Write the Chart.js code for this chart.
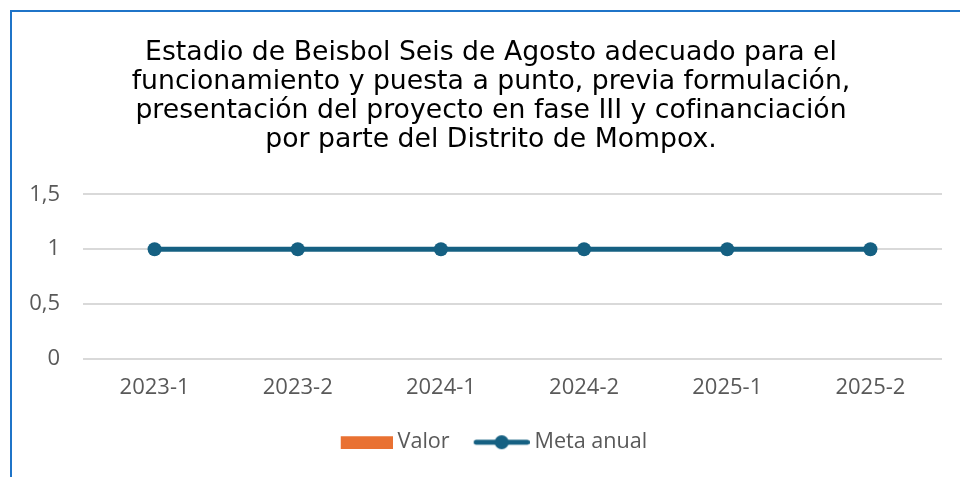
<!DOCTYPE html>
<html lang="es">
<head>
  <meta charset="UTF-8">
  <title>Estadio de Beisbol Seis de Agosto</title>
  <script src="https://cdn.jsdelivr.net/npm/chart.js"></script>
  <style>
    html, body { margin: 0; padding: 0; background: #fff; overflow: hidden; }
    #frame {
      position: absolute; left: 10px; top: 10px; width: 960px; height: 477px;
      border-left: 2px solid #1f74c8; border-top: 2px solid #1f74c8;
    }
    #wrap { position: absolute; left: 0; top: 0; width: 980px; height: 477px; }
  </style>
</head>
<body>
  <div id="frame"></div>
  <div id="wrap"><canvas id="chart"></canvas></div>

  <script>
    const categories = ['2023-1', '2023-2', '2024-1', '2024-2', '2025-1', '2025-2'];
    const valor = [0, 0, 0, 0, 0, 0];
    const metaAnual = [1, 1, 1, 1, 1, 1];
    const yTicks = [0, 0.5, 1, 1.5];

    const titleLines = [
      'Estadio de Beisbol Seis de Agosto adecuado para el',
      'funcionamiento y puesta a punto, previa formulación,',
      'presentación del proyecto en fase III y cofinanciación',
      'por parte del Distrito de Mompox.'
    ];

    const orange = '#e97132';
    const blue = '#156082';

    // iconos de la leyenda (parte visible pegada a la derecha, cerca del texto)
    function barIcon() {
      const c = document.createElement('canvas');
      c.width = 64; c.height = 14;
      const g = c.getContext('2d');
      g.fillStyle = orange;
      g.fillRect(12, 1, 52, 13);
      return c;
    }
    function lineIcon() {
      const c = document.createElement('canvas');
      c.width = 64; c.height = 16;
      const g = c.getContext('2d');
      g.strokeStyle = blue; g.lineWidth = 5; g.lineCap = 'round';
      g.beginPath(); g.moveTo(10.5, 8); g.lineTo(61.5, 8); g.stroke();
      g.fillStyle = blue;
      g.beginPath(); g.arc(36, 8, 7, 0, Math.PI * 2); g.fill();
      return c;
    }
    const icons = [barIcon(), lineIcon()];

    // centra título y leyenda sobre el marco, no sobre el área del eje
    const shiftBlocks = {
      id: 'shiftBlocks',
      afterLayout(chart) {
        chart.titleBlock.left += 20;
        chart.legend.left += 20;
      }
    };

    new Chart(document.getElementById('chart').getContext('2d'), {
      data: {
        labels: categories,
        datasets: [
          {
            type: 'bar',
            label: 'Valor',
            data: valor,
            backgroundColor: orange,
            order: 2
          },
          {
            type: 'line',
            label: 'Meta anual',
            data: metaAnual,
            borderColor: blue,
            backgroundColor: blue,
            borderWidth: 5,
            pointRadius: 7,
            pointHoverRadius: 7,
            pointBackgroundColor: blue,
            pointBorderWidth: 0,
            order: 1
          }
        ]
      },
      plugins: [shiftBlocks],
      options: {
        responsive: true,
        maintainAspectRatio: false,
        animation: false,
        layout: { padding: { left: 20, right: 38, top: 39, bottom: 14 } },
        plugins: {
          title: {
            display: true,
            text: titleLines,
            color: '#000',
            font: { family: 'DejaVu Sans', size: 26.7, weight: 'normal', lineHeight: 1.08 },
            padding: { top: 0, bottom: 40 }
          },
          legend: {
            position: 'bottom',
            labels: {
              usePointStyle: true,
              pointStyleWidth: 52,
              color: '#595959',
              font: { family: 'Open Sans', size: 21.6 },
              padding: 22,
              sort: (a, b) => a.datasetIndex - b.datasetIndex,
              generateLabels(chart) {
                return Chart.defaults.plugins.legend.labels.generateLabels(chart).map(item => {
                  item.pointStyle = icons[item.datasetIndex];
                  return item;
                });
              }
            }
          },
          tooltip: { enabled: false }
        },
        scales: {
          x: {
            grid: { display: false },
            border: { display: false },
            ticks: { color: '#595959', font: { family: 'Open Sans', size: 22 }, padding: 8 }
          },
          y: {
            min: 0,
            max: 1.5,
            afterBuildTicks(axis) { axis.ticks = yTicks.map(v => ({ value: v })); },
            afterFit(axis) { axis.width = 63; },
            grid: { color: '#d9d9d9', lineWidth: 2, drawTicks: false },
            border: { display: false },
            ticks: {
              color: '#595959',
              font: { family: 'Open Sans', size: 22 },
              padding: 23,
              callback: v => String(v).replace('.', ',')
            }
          }
        }
      }
    });
  </script>
</body>
</html>
